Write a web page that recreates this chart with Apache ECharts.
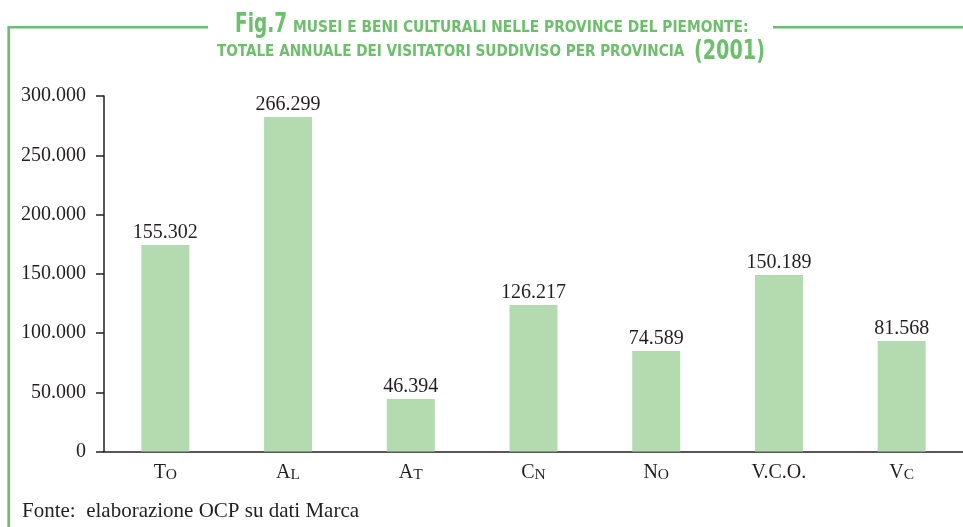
<!DOCTYPE html>
<html>
<head>
<meta charset="utf-8">
<script src="https://cdn.jsdelivr.net/npm/echarts@6/dist/echarts.min.js"></script>
<style>
html,body{margin:0;padding:0;background:#fff;}
#chart{width:963px;height:527px;}
</style>
</head>
<body>
<div id="chart"></div>
<script>
// Categories (provinces)
var categories = ['To', 'Al', 'At', 'Cn', 'No', 'V.C.O.', 'Vc'];
// Values printed above the bars
var labelValues = [155302, 266299, 46394, 126217, 74589, 150189, 81568];
// Bar heights as drawn in the picture
var barHeights = [174300, 282300, 44300, 123600, 84800, 148900, 93200];
// Y axis ticks
var yTicks = [0, 50000, 100000, 150000, 200000, 250000, 300000];
// Title and source texts
var titleFig = 'Fig.7';
var titleLine1 = 'MUSEI E BENI CULTURALI NELLE PROVINCE DEL PIEMONTE:';
var titleLine2 = 'TOTALE ANNUALE DEI VISITATORI SUDDIVISO PER PROVINCIA';
var titleYear = '(2001)';
var sourceText = 'Fonte:  elaborazione OCP su dati Marca';

var GREEN = '#6cbf6b';
var BAR = '#b4dbb0';
var INK = '#231f20';
var SERIF = '"Liberation Serif", "DejaVu Serif", serif';
var NARROW = '"Liberation Sans Narrow", "DejaVu Sans Condensed", "Roboto", sans-serif';

function fmt(v) {
  return String(v).replace(/\B(?=(\d{3})+(?!\d))/g, '.');
}

function titleText(txt, x, y, size, sx) {
  return {type: 'text', x: x, y: y, scaleX: sx, scaleY: 1, style: {
    text: txt, fontFamily: NARROW, fontWeight: 'bold', fontSize: size, fill: GREEN,
    align: 'left', verticalAlign: 'middle'
  }};
}

var chart = echarts.init(document.getElementById('chart'), null, {renderer: 'canvas'});
chart.setOption({
  animation: false,
  backgroundColor: '#ffffff',
  grid: {left: 104, right: -9, top: 96, bottom: 75.5, containLabel: false},
  xAxis: {
    type: 'category',
    data: categories,
    boundaryGap: true,
    axisLine: {lineStyle: {color: INK, width: 1.5}},
    axisTick: {length: 10, lineStyle: {color: INK, width: 1.5}},
    axisLabel: {
      margin: 11,
      formatter: function (v) {
        if (v === 'V.C.O.') return '{a|V.C.O.}';
        return '{a|' + v.charAt(0) + '}{b|' + v.slice(1).toUpperCase() + '}';
      },
      rich: {
        a: {fontFamily: SERIF, fontSize: 20, color: INK, verticalAlign: 'bottom', lineHeight: 20},
        b: {fontFamily: SERIF, fontSize: 15.5, color: INK, verticalAlign: 'bottom', lineHeight: 17}
      }
    }
  },
  yAxis: {
    type: 'value',
    min: yTicks[0],
    max: yTicks[yTicks.length - 1],
    interval: yTicks[1] - yTicks[0],
    splitLine: {show: false},
    axisLine: {show: true, lineStyle: {color: INK, width: 1.5}},
    axisTick: {show: true, length: 8, lineStyle: {color: INK, width: 1.5}},
    axisLabel: {
      margin: 18,
      fontFamily: SERIF,
      fontSize: 20,
      color: INK,
      formatter: function (v) { return fmt(v); }
    }
  },
  series: [{
    type: 'bar',
    data: barHeights,
    barWidth: 48,
    itemStyle: {color: BAR},
    label: {
      show: true,
      position: 'top',
      distance: 2,
      fontFamily: SERIF,
      fontSize: 20,
      color: INK,
      formatter: function (p) { return fmt(labelValues[p.dataIndex]); }
    }
  }],
  graphic: [
    {type: 'polyline', shape: {points: [[208, 27.3], [8.7, 27.3], [8.7, 527]]},
     style: {stroke: GREEN, lineWidth: 2.6, fill: null}},
    {type: 'line', shape: {x1: 773, y1: 27.3, x2: 963, y2: 27.3},
     style: {stroke: GREEN, lineWidth: 2.6}},
    titleText(titleFig, 235, 25, 26, 0.79),
    titleText(titleLine1, 293, 28, 16.5, 0.93),
    titleText(titleLine2, 217, 51.5, 16.5, 0.916),
    titleText(titleYear, 694, 52, 26, 0.82),
    {type: 'text', x: 22, y: 511, style: {
      text: sourceText,
      fontFamily: SERIF, fontSize: 21, fill: INK,
      align: 'left', verticalAlign: 'middle'
    }}
  ]
});
</script>
</body>
</html>
